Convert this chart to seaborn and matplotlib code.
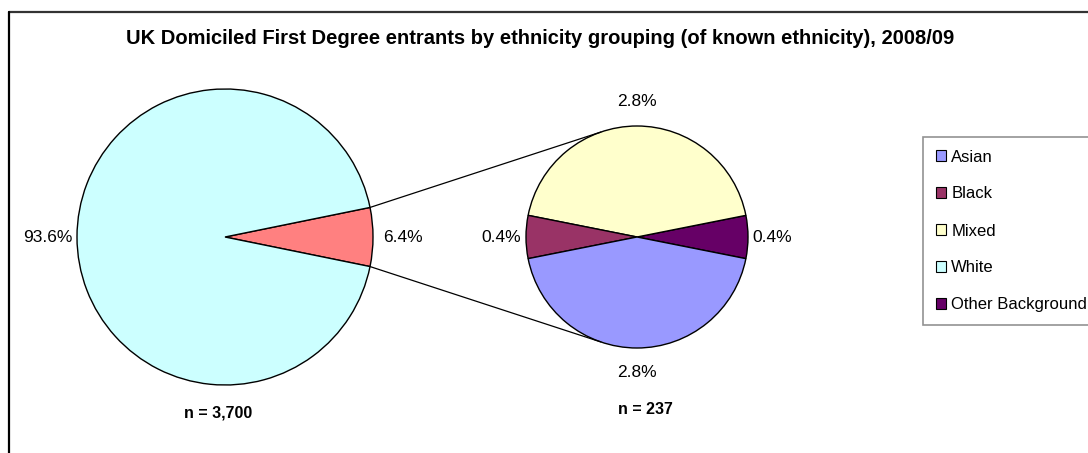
import numpy as np
import matplotlib
matplotlib.use("Agg")
import matplotlib.pyplot as plt
from matplotlib.patches import Patch
import seaborn as sns

# data
main_labels = ["Other", "White"]
main_values = [6.4, 93.6]
sub_labels = ["Other Background", "Mixed", "Black", "Asian"]
sub_values = [0.4, 2.8, 0.4, 2.8]
legend_labels = ["Asian", "Black", "Mixed", "White", "Other Background"]
n_main = "n = 3,700"
n_sub = "n = 237"

colors = {"Asian": "#9999FF", "Black": "#993366", "Mixed": "#FFFFCC",
          "White": "#CCFFFF", "Other Background": "#660066", "Other": "#FF8080"}

sns.set_theme(style="white")
plt.rcParams["font.family"] = ["Liberation Sans", "DejaVu Sans"]
plt.rcParams["text.color"] = "black"

W, H = 1088, 453
fig = plt.figure(figsize=(W / 100, H / 100), dpi=100)
ax = fig.add_axes([0, 0, 1, 1])

c1, r1 = (225, H - 237), 148
c2, r2 = (637, H - 237), 111

# main pie, small slice centred on the right
start1 = -main_values[0] / sum(main_values) * 360 / 2
w1, _ = ax.pie(main_values, colors=[colors[k] for k in main_labels], startangle=start1,
               center=c1, radius=r1, counterclock=True,
               wedgeprops=dict(edgecolor="black", linewidth=1))

start2 = -sub_values[0] / sum(sub_values) * 360 / 2
w2, _ = ax.pie(sub_values, colors=[colors[k] for k in sub_labels], startangle=start2,
               center=c2, radius=r2, counterclock=True,
               wedgeprops=dict(edgecolor="black", linewidth=1))

ax.set_xlim(0, W)
ax.set_ylim(0, H)
ax.set_aspect("equal")
ax.axis("off")


def put_labels(wedges, values, center, radius, dist):
    for w, v in zip(wedges, values):
        th = np.deg2rad((w.theta1 + w.theta2) / 2)
        x = center[0] + dist * radius * np.cos(th)
        y = center[1] + dist * radius * np.sin(th)
        ax.text(x, y, f"{v}%", ha="center", va="center", fontsize=12.5, color="black")


put_labels(w1, main_values, c1, r1, 1.2)
put_labels(w2, sub_values, c2, r2, 1.22)

# connector lines
a = np.deg2rad(w1[0].theta2)
b = np.deg2rad(w1[0].theta1)
for src, dst in [(a, np.deg2rad(109)), (b, np.deg2rad(-109))]:
    ax.plot([c1[0] + r1 * np.cos(src), c2[0] + r2 * np.cos(dst)],
            [c1[1] + r1 * np.sin(src), c2[1] + r2 * np.sin(dst)],
            color="black", lw=0.9)

ax.text(540, H - 38, "UK Domiciled First Degree entrants by ethnicity grouping (of known ethnicity), 2008/09",
        ha="center", va="center", fontsize=14.5, fontweight="bold", color="black")
ax.text(218, H - 413, n_main, ha="center", va="center", fontsize=11.5, fontweight="bold", color="black")
ax.text(645, H - 410, n_sub, ha="center", va="center", fontsize=11.5, fontweight="bold", color="black")

# chart border
ax.plot([9, W], [H - 12, H - 12], color="#333333", lw=1.6, clip_on=False)
ax.plot([9, 9], [0, H - 12], color="black", lw=1.6, clip_on=False)

handles = [Patch(facecolor=colors[k], edgecolor="black", linewidth=0.8) for k in legend_labels]
leg = ax.legend(handles, legend_labels, loc="upper left",
                bbox_to_anchor=(923 / W, 1 - 137 / H), fontsize=12,
                frameon=True, fancybox=False, edgecolor="#777777",
                handlelength=0.6, handleheight=0.6, handletextpad=0.35,
                labelspacing=1.32, borderpad=0.75, borderaxespad=0)
leg.get_frame().set_linewidth(1.2)
for t in leg.get_texts():
    t.set_color("black")

fig.savefig("out.png", dpi=100, facecolor="white")
